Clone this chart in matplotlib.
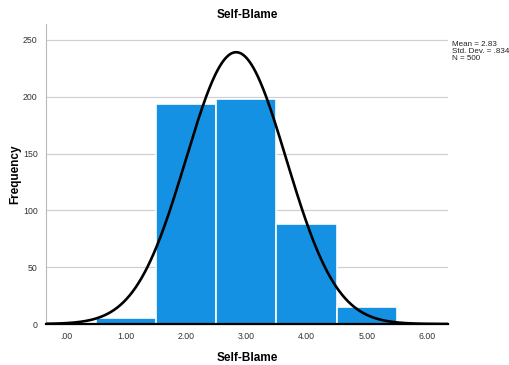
import numpy as np
import matplotlib
matplotlib.use('Agg')
from matplotlib import pyplot as plt

plt.rcParams['font.family'] = ['Liberation Sans', 'DejaVu Sans']

# histogram of Self-Blame scores
bin_centers = [1.0, 2.0, 3.0, 4.0, 5.0]
frequencies = [5, 194, 198, 88, 15]
mean = 2.83
std_dev = 0.834
n = 500
x_ticks = [0, 1, 2, 3, 4, 5, 6]
x_tick_labels = ['.00', '1.00', '2.00', '3.00', '4.00', '5.00', '6.00']
y_ticks = [0, 50, 100, 150, 200, 250]

fig = plt.figure(figsize=(5.09, 3.65), dpi=100)
ax = fig.add_axes([0.0904, 0.1123, 0.7896, 0.822])

ax.bar(bin_centers, frequencies, width=1.0, color='#1591e3', edgecolor='white',
       linewidth=1.2, zorder=2)

# fitted normal curve
xs = np.linspace(-0.33, 6.35, 400)
pdf = np.exp(-0.5 * ((xs - mean) / std_dev) ** 2) / (std_dev * np.sqrt(2 * np.pi))
ax.plot(xs, n * 1.0 * pdf, color='black', linewidth=1.9, zorder=3)

ax.set_xlim(-0.33, 6.35)
ax.set_ylim(0, 264)
ax.set_xticks(x_ticks)
ax.set_xticklabels(x_tick_labels)
ax.set_yticks(y_ticks)
ax.tick_params(axis='both', length=0, labelsize=6.3, colors='#333333', pad=6)
ax.grid(axis='y', color='#d0d0d0', linewidth=0.9, zorder=0)
ax.set_axisbelow(True)

for s in ['top', 'right']:
    ax.spines[s].set_visible(False)
ax.spines['left'].set_color('#bbbbbb')
ax.spines['left'].set_linewidth(0.8)
ax.spines['bottom'].set_color('black')
ax.spines['bottom'].set_linewidth(1.6)
ax.spines['bottom'].set_zorder(4)

ax.set_title('Self-Blame', fontsize=8.5, fontweight='bold', pad=4)
ax.set_xlabel('Self-Blame', fontsize=8.5, fontweight='bold', labelpad=8)
ax.set_ylabel('Frequency', fontsize=8.5, fontweight='bold', labelpad=1.5)

fig.text(0.888, 0.888, 'Mean = 2.83\nStd. Dev. = .834\nN = 500', fontsize=5.8,
         va='top', ha='left', linespacing=1.0, color='#222222')

fig.savefig('out.png', dpi=100)
